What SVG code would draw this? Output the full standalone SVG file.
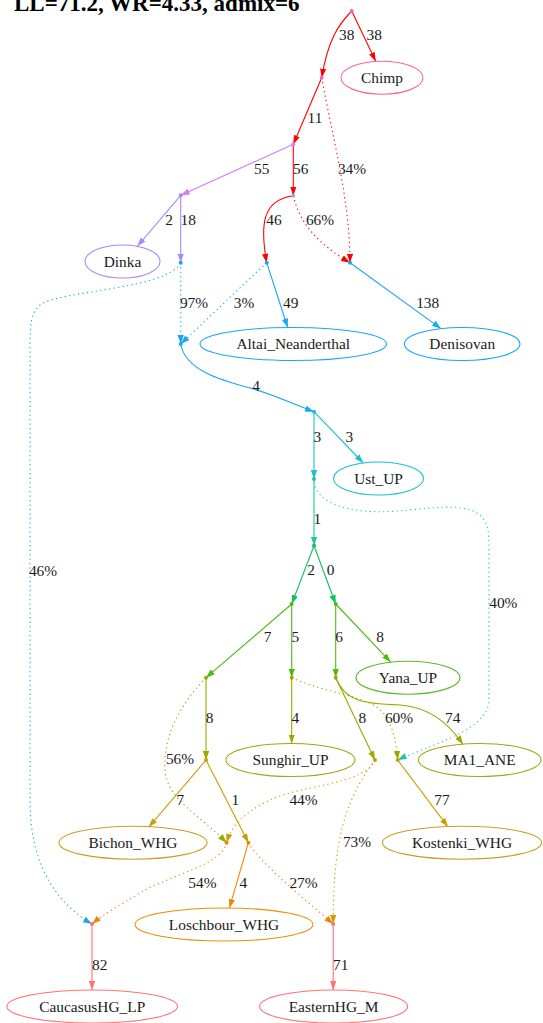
<svg xmlns="http://www.w3.org/2000/svg" width="543" height="1023" viewBox="0 0 543 1023">
<style>
.bg{fill:#fff}
.t{font-family:"Liberation Serif","Times New Roman",serif;font-size:15.4px;fill:#1a1a1a;text-anchor:middle}
.title{font-family:"Liberation Serif","Times New Roman",serif;font-size:23px;font-weight:bold;fill:#000}
.n{fill:none;stroke-width:1.1}
.e{fill:none;stroke-width:1.1}
.d{stroke-dasharray:1.3 3.2}
</style>
<defs>
<marker id="m-red" viewBox="0 0 10 7" refX="10" refY="3.5" markerWidth="9" markerHeight="6.5" markerUnits="userSpaceOnUse" orient="auto"><path d="M0,0L10,3.5L0,7z" fill="#ff0000"/></marker>
<marker id="m-violet" viewBox="0 0 10 7" refX="10" refY="3.5" markerWidth="9" markerHeight="6.5" markerUnits="userSpaceOnUse" orient="auto"><path d="M0,0L10,3.5L0,7z" fill="#d57cf7"/></marker>
<marker id="m-lav" viewBox="0 0 10 7" refX="10" refY="3.5" markerWidth="9" markerHeight="6.5" markerUnits="userSpaceOnUse" orient="auto"><path d="M0,0L10,3.5L0,7z" fill="#a48bfc"/></marker>
<marker id="m-blue" viewBox="0 0 10 7" refX="10" refY="3.5" markerWidth="9" markerHeight="6.5" markerUnits="userSpaceOnUse" orient="auto"><path d="M0,0L10,3.5L0,7z" fill="#1aa6f5"/></marker>
<marker id="m-teal" viewBox="0 0 10 7" refX="10" refY="3.5" markerWidth="9" markerHeight="6.5" markerUnits="userSpaceOnUse" orient="auto"><path d="M0,0L10,3.5L0,7z" fill="#19c1d1"/></marker>
<marker id="m-tg" viewBox="0 0 10 7" refX="10" refY="3.5" markerWidth="9" markerHeight="6.5" markerUnits="userSpaceOnUse" orient="auto"><path d="M0,0L10,3.5L0,7z" fill="#1ec6a4"/></marker>
<marker id="m-g1" viewBox="0 0 10 7" refX="10" refY="3.5" markerWidth="9" markerHeight="6.5" markerUnits="userSpaceOnUse" orient="auto"><path d="M0,0L10,3.5L0,7z" fill="#14bf60"/></marker>
<marker id="m-g2" viewBox="0 0 10 7" refX="10" refY="3.5" markerWidth="9" markerHeight="6.5" markerUnits="userSpaceOnUse" orient="auto"><path d="M0,0L10,3.5L0,7z" fill="#4cba10"/></marker>
<marker id="m-olive" viewBox="0 0 10 7" refX="10" refY="3.5" markerWidth="9" markerHeight="6.5" markerUnits="userSpaceOnUse" orient="auto"><path d="M0,0L10,3.5L0,7z" fill="#9aa800"/></marker>
<marker id="m-gold" viewBox="0 0 10 7" refX="10" refY="3.5" markerWidth="9" markerHeight="6.5" markerUnits="userSpaceOnUse" orient="auto"><path d="M0,0L10,3.5L0,7z" fill="#c99e00"/></marker>
<marker id="m-orange" viewBox="0 0 10 7" refX="10" refY="3.5" markerWidth="9" markerHeight="6.5" markerUnits="userSpaceOnUse" orient="auto"><path d="M0,0L10,3.5L0,7z" fill="#e88a00"/></marker>
<marker id="m-salmon" viewBox="0 0 10 7" refX="10" refY="3.5" markerWidth="9" markerHeight="6.5" markerUnits="userSpaceOnUse" orient="auto"><path d="M0,0L10,3.5L0,7z" fill="#ff7272"/></marker>
</defs>
<rect class="bg" x="0" y="0" width="543" height="1023"/>
<text class="title" x="14" y="11">LL=71.2, WR=4.33, admix=6</text>

<g id="edges">
<path class="e" stroke="#ff0000" marker-end="url(#m-red)" d="M351.7,11 C338,25 328,40 321.7,77.7"/>
<path class="e" stroke="#ff0000" marker-end="url(#m-red)" d="M351.7,11 L375.7,61.3"/>
<path class="e" stroke="#ff0000" marker-end="url(#m-red)" d="M321.7,77.7 L293.3,144.3"/>
<path class="e d" stroke="#ff0000" marker-end="url(#m-red)" d="M321.7,77.7 C333,140 350,200 350,262.7"/>
<path class="e" stroke="#d57cf7" marker-end="url(#m-violet)" d="M293.3,144.3 L180.7,195.3"/>
<path class="e" stroke="#ff0000" marker-end="url(#m-red)" d="M293.3,144.3 L293.3,195.7"/>
<path class="e" stroke="#a48bfc" marker-end="url(#m-lav)" d="M180.7,195.3 L137.3,246.3"/>
<path class="e" stroke="#a48bfc" marker-end="url(#m-lav)" d="M180.7,195.3 L180.7,262.7"/>
<path class="e" stroke="#ff0000" marker-end="url(#m-red)" d="M293.3,195.7 C262,200 260,225 266.7,262.7"/>
<path class="e d" stroke="#ff0000" marker-end="url(#m-red)" d="M293.3,195.7 C300,225 320,245 350,262.7"/>
<path class="e d" stroke="#1aa6f5" marker-end="url(#m-blue)" d="M180.7,262.7 L180.7,344"/>
<path class="e d" stroke="#1aa6f5" marker-end="url(#m-blue)" d="M266.7,262.7 L180.7,344"/>
<path class="e" stroke="#1aa6f5" marker-end="url(#m-blue)" d="M266.7,262.7 L287.7,327.5"/>
<path class="e" stroke="#1aa6f5" marker-end="url(#m-blue)" d="M350,262.7 L441,328.6"/>
<path class="e d" stroke="#1aa6f5" marker-end="url(#m-blue)" d="M180.7,263 C165,290 60,290 40,305 C31,313 30,325 30,345 L30,800 C30,870 60,905 92,924"/>
<path class="e" stroke="#1aa6f5" marker-end="url(#m-blue)" d="M180.7,344 C185,370 220,380 250,388 C275,395 295,405 314,411.7"/>
<path class="e" stroke="#19c1d1" stroke-width="1.6" marker-end="url(#m-teal)" d="M314,411.7 L314,479"/>
<path class="e" stroke="#19c1d1" marker-end="url(#m-teal)" d="M314,411.7 L363.3,463"/>
<path class="e" stroke="#1ec6a4" stroke-width="1.6" marker-end="url(#m-tg)" d="M314,479 L314,545.7"/>
<path class="e d" stroke="#2dcfae" marker-end="url(#m-tg)" d="M314,482 C318,505 350,512 383,511.7 C420,511 460,500 480,515 C488,522 489,532 489,548 L489,700 C489,730 430,745 397.7,760"/>
<path class="e" stroke="#14bf60" marker-end="url(#m-g1)" d="M314,545.7 L291.7,604"/>
<path class="e" stroke="#14bf60" marker-end="url(#m-g1)" d="M314,545.7 L335.7,604"/>
<path class="e" stroke="#4cba10" marker-end="url(#m-g2)" d="M291.7,604 L206,677.7"/>
<path class="e" stroke="#4cba10" marker-end="url(#m-g2)" d="M291.7,604 L291.7,677.7"/>
<path class="e" stroke="#4cba10" marker-end="url(#m-g2)" d="M335.7,604 L335.7,677.7"/>
<path class="e" stroke="#4cba10" marker-end="url(#m-g2)" d="M335.7,604 L390.7,662.1"/>
<path class="e" stroke="#9aa800" marker-end="url(#m-olive)" d="M206,677.7 L206,760"/>
<path class="e d" stroke="#9aa800" marker-end="url(#m-olive)" d="M206,677.7 C185,700 163,730 165,770 C167,800 200,815 226.6,842.7"/>
<path class="e" stroke="#9aa800" marker-end="url(#m-olive)" d="M291.7,677.7 L291.7,743.5"/>
<path class="e d" stroke="#9aa800" marker-end="url(#m-olive)" d="M291.7,677.7 C330,695 370,695 385,715 C393,728 396,740 397.7,760"/>
<path class="e" stroke="#9aa800" marker-end="url(#m-olive)" d="M335.7,677.7 L375,760"/>
<path class="e" stroke="#9aa800" marker-end="url(#m-olive)" d="M335.7,677.7 C345,700 360,704 400,705 C430,707 450,725 463,744.5"/>
<path class="e" stroke="#c99e00" marker-end="url(#m-gold)" d="M206,760 L148.8,827.1"/>
<path class="e" stroke="#c99e00" marker-end="url(#m-gold)" d="M206,760 L248.4,842.7"/>
<path class="e d" stroke="#c99e00" marker-end="url(#m-gold)" d="M375,760 C365,785 300,785 270,800 C245,812 232,825 226.6,842.7"/>
<path class="e d" stroke="#c99e00" marker-end="url(#m-gold)" d="M375,760 C345,800 333,840 333.2,924"/>
<path class="e" stroke="#c99e00" marker-end="url(#m-gold)" d="M397.7,760 L448,826.9"/>
<path class="e d" stroke="#e88a00" marker-end="url(#m-orange)" d="M226.6,842.7 C222,865 170,875 140,893 C120,905 105,913 92,924"/>
<path class="e" stroke="#e88a00" marker-end="url(#m-orange)" d="M248.4,842.7 L229.4,908.1"/>
<path class="e d" stroke="#e88a00" marker-end="url(#m-orange)" d="M248.4,842.7 C262,865 300,895 333.2,924"/>
<path class="e" stroke="#ff7272" marker-end="url(#m-salmon)" d="M92,924 L92,990"/>
<path class="e" stroke="#ff7272" marker-end="url(#m-salmon)" d="M333.2,924 L333.2,990"/>
</g>

<g id="edge-labels">
<text class="t" x="346.7" y="40">38</text>
<text class="t" x="374.3" y="40">38</text>
<text class="t" x="315" y="123.3">11</text>
<text class="t" x="261.7" y="174.3">55</text>
<text class="t" x="300.7" y="174.3">56</text>
<text class="t" x="352" y="174.3">34%</text>
<text class="t" x="169" y="225">2</text>
<text class="t" x="188.3" y="225">18</text>
<text class="t" x="274" y="225">46</text>
<text class="t" x="320" y="225">66%</text>
<text class="t" x="194" y="307.7">97%</text>
<text class="t" x="244" y="307.7">3%</text>
<text class="t" x="290.7" y="307.7">49</text>
<text class="t" x="427.7" y="307.7">138</text>
<text class="t" x="256" y="390.7">4</text>
<text class="t" x="317.3" y="441.7">3</text>
<text class="t" x="349.3" y="441.7">3</text>
<text class="t" x="317.3" y="524.3">1</text>
<text class="t" x="43" y="576">46%</text>
<text class="t" x="311" y="575">2</text>
<text class="t" x="330.7" y="575">0</text>
<text class="t" x="503.3" y="608.3">40%</text>
<text class="t" x="267.7" y="641.7">7</text>
<text class="t" x="295.3" y="641.7">5</text>
<text class="t" x="339" y="641.7">6</text>
<text class="t" x="380" y="641.7">8</text>
<text class="t" x="209.7" y="723.3">8</text>
<text class="t" x="295.3" y="723.3">4</text>
<text class="t" x="362.3" y="723.3">8</text>
<text class="t" x="399" y="723.3">60%</text>
<text class="t" x="452.7" y="723.3">74</text>
<text class="t" x="180" y="764.3">56%</text>
<text class="t" x="180.3" y="805">7</text>
<text class="t" x="235.3" y="805">1</text>
<text class="t" x="303.5" y="805">44%</text>
<text class="t" x="441.9" y="805">77</text>
<text class="t" x="357" y="846.7">73%</text>
<text class="t" x="202.4" y="888.3">54%</text>
<text class="t" x="243.3" y="888.3">4</text>
<text class="t" x="303.5" y="888.3">27%</text>
<text class="t" x="99.7" y="970">82</text>
<text class="t" x="340.8" y="970">71</text>
</g>

<g id="root"><circle cx="351.7" cy="11" r="2" fill="#f7679a"/></g>
<g id="n1"><circle cx="321.7" cy="77.7" r="2" fill="#f266c8"/></g>
<g id="n2"><circle cx="293.3" cy="144.3" r="2" fill="#d57cf7"/></g>
<g id="n3"><circle cx="180.7" cy="195.3" r="2" fill="#a48bfc"/></g>
<g id="n4"><circle cx="293.3" cy="195.7" r="2" fill="#b09cff"/></g>
<g id="n5"><circle cx="180.7" cy="262.7" r="2" fill="#1aa6f5"/></g>
<g id="n6"><circle cx="266.7" cy="262.7" r="2" fill="#1aa6f5"/></g>
<g id="n7"><circle cx="350" cy="262.7" r="2" fill="#1aa6f5"/></g>
<g id="n8"><circle cx="180.7" cy="344" r="2" fill="#1aa6f5"/></g>
<g id="n9"><circle cx="314" cy="411.7" r="2" fill="#19c1d1"/></g>
<g id="n10"><circle cx="314" cy="479" r="2" fill="#1ec6a4"/></g>
<g id="n11"><circle cx="314" cy="545.7" r="2" fill="#14bf60"/></g>
<g id="n12"><circle cx="291.7" cy="604" r="2" fill="#4cba10"/></g>
<g id="n13"><circle cx="335.7" cy="604" r="2" fill="#4cba10"/></g>
<g id="n14"><circle cx="206" cy="677.7" r="2" fill="#9aa800"/></g>
<g id="n15"><circle cx="291.7" cy="677.7" r="2" fill="#9aa800"/></g>
<g id="n16"><circle cx="335.7" cy="677.7" r="2" fill="#9aa800"/></g>
<g id="n17"><circle cx="206" cy="760" r="2" fill="#c99e00"/></g>
<g id="n18"><circle cx="375" cy="760" r="2" fill="#c99e00"/></g>
<g id="n19"><circle cx="397.7" cy="760" r="2" fill="#c99e00"/></g>
<g id="n20"><circle cx="226.6" cy="842.7" r="2" fill="#e88a00"/></g>
<g id="n21"><circle cx="248.4" cy="842.7" r="2" fill="#e88a00"/></g>
<g id="n22"><circle cx="92" cy="924" r="2" fill="#ff7272"/></g>
<g id="n23"><circle cx="333.2" cy="924" r="2" fill="#ff7272"/></g>

<g id="Chimp"><ellipse class="n" cx="382" cy="77.7" rx="41" ry="16.5" stroke="#f7679a"/><text class="t" x="382" y="82.7">Chimp</text></g>
<g id="Dinka"><ellipse class="n" cx="122.5" cy="261.5" rx="37.5" ry="16.5" stroke="#a48bfc"/><text class="t" x="122.5" y="266.5">Dinka</text></g>
<g id="Altai_Neanderthal"><ellipse class="n" cx="293.3" cy="344" rx="93.3" ry="16.5" stroke="#1aa6f5"/><text class="t" x="293.3" y="349">Altai_Neanderthal</text></g>
<g id="Denisovan"><ellipse class="n" cx="462.2" cy="344" rx="57.8" ry="16.5" stroke="#1aa6f5"/><text class="t" x="462.2" y="349">Denisovan</text></g>
<g id="Ust_UP"><ellipse class="n" cx="378.5" cy="478.5" rx="45" ry="16.5" stroke="#19c1d1"/><text class="t" x="378.5" y="483.5">Ust_UP</text></g>
<g id="Yana_UP"><ellipse class="n" cx="408" cy="677.7" rx="52" ry="16.5" stroke="#5cba2a"/><text class="t" x="408" y="682.7">Yana_UP</text></g>
<g id="Sunghir_UP"><ellipse class="n" cx="290.5" cy="760" rx="64.5" ry="16.5" stroke="#a4a414"/><text class="t" x="290.5" y="765">Sunghir_UP</text></g>
<g id="MA1_ANE"><ellipse class="n" cx="479.7" cy="760" rx="61.3" ry="16.5" stroke="#a4a414"/><text class="t" x="479.7" y="765">MA1_ANE</text></g>
<g id="Bichon_WHG"><ellipse class="n" cx="133" cy="842.7" rx="74" ry="16.5" stroke="#caa020"/><text class="t" x="133" y="847.7">Bichon_WHG</text></g>
<g id="Kostenki_WHG"><ellipse class="n" cx="462" cy="842.7" rx="79.6" ry="16.5" stroke="#caa020"/><text class="t" x="462" y="847.7">Kostenki_WHG</text></g>
<g id="Loschbour_WHG"><ellipse class="n" cx="224" cy="924.5" rx="89" ry="16.5" stroke="#e8900a"/><text class="t" x="224" y="929.5">Loschbour_WHG</text></g>
<g id="CaucasusHG_LP"><ellipse class="n" cx="92.2" cy="1006.5" rx="85.3" ry="16.5" stroke="#ff7272"/><text class="t" x="92.2" y="1011.5">CaucasusHG_LP</text></g>
<g id="EasternHG_M"><ellipse class="n" cx="333.6" cy="1006.5" rx="74" ry="16.5" stroke="#ff7272"/><text class="t" x="333.6" y="1011.5">EasternHG_M</text></g>
</svg>
